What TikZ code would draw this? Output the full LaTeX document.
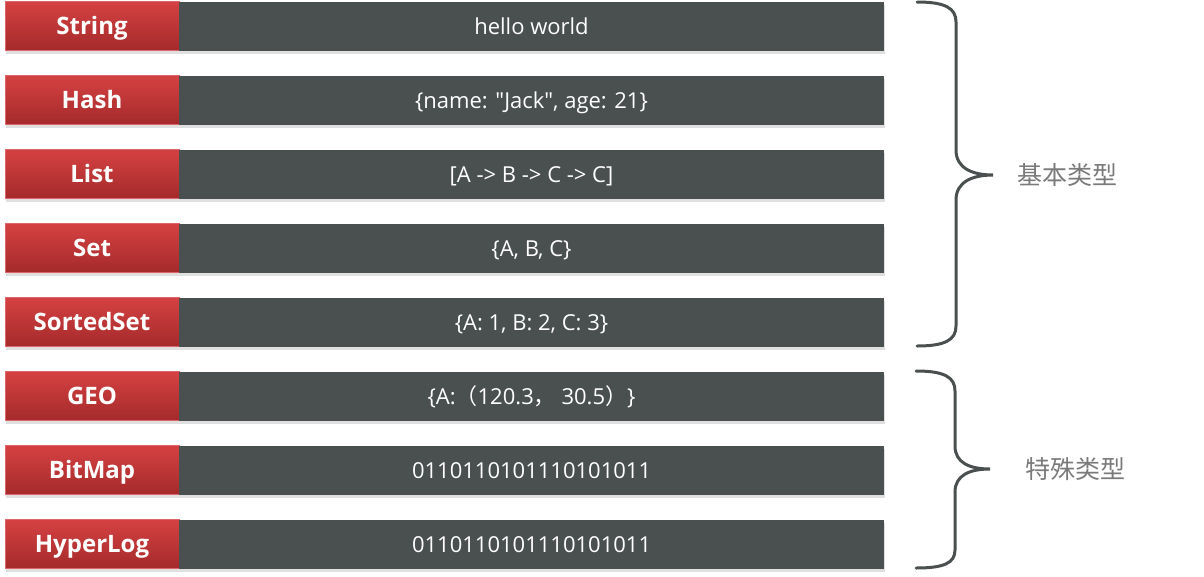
\documentclass[tikz,border=0pt]{standalone}
\usepackage{fontspec}
\setmainfont{Open Sans}
\newfontfamily\cjk{Noto Sans CJK SC}
\usetikzlibrary{positioning, shadows}

\definecolor{keytop}{HTML}{D54142}
\definecolor{keybot}{HTML}{A42A2B}
\definecolor{bargray}{HTML}{4A4F50}
\definecolor{notegray}{HTML}{7A7A7A}

\begin{document}
\begin{tikzpicture}[x=1pt, y=-1pt,
    key/.style={minimum width=174pt, minimum height=49pt, inner sep=0pt, outer sep=0pt,
        text height=20pt, text depth=3pt,
        top color=keytop, bottom color=keybot, draw=keytop!80!white, line width=.6pt,
        text=white, font=\fontsize{24}{28}\selectfont\bfseries,
        drop shadow={shadow xshift=1pt, shadow yshift=-3pt, opacity=.25}},
    val/.style={minimum width=705pt, minimum height=49pt, inner sep=0pt, outer sep=0pt,
        text height=18pt, text depth=2pt,
        fill=bargray, text=white, font=\fontsize{22}{26}\selectfont,
        drop shadow={shadow xshift=1pt, shadow yshift=-3pt, opacity=.25}},
    brace/.style={draw=bargray, line width=3pt, line cap=round},
    note/.style={inner sep=0pt, text=notegray, font=\cjk\fontsize{25}{30}\selectfont}]
    \useasboundingbox (0,0) rectangle (1204,576);

    \node[key] (string) at (92, 26) {String};
    \node[val, right=0pt of string] (stringval) {hello world};
    \node[key] (hash) at (92, 100) {Hash};
    \node[val, right=0pt of hash] (hashval) {\{name: \textquotedbl Jack\textquotedbl, age: 21\}};
    \node[key] (list) at (92, 174) {List};
    \node[val, right=0pt of list] (listval) {[A -> B -> C -> C]};
    \node[key] (set) at (92, 248) {Set};
    \node[val, right=0pt of set] (setval) {\{A, B, C\}};
    \node[key] (sortedset) at (92, 322) {SortedSet};
    \node[val, right=0pt of sortedset] (sortedsetval) {\{A: 1, B: 2, C: 3\}};
    \node[key] (geo) at (92, 396) {GEO};
    \node[val, right=0pt of geo] (geoval) {\{A:{\cjk（}120.3{\cjk，} 30.5{\cjk）}\}};
    \node[key] (bitmap) at (92, 470) {BitMap};
    \node[val, right=0pt of bitmap] (bitmapval) {0110110101110101011};
    \node[key] (hyperlog) at (92, 544) {HyperLog};
    \node[val, right=0pt of hyperlog] (hyperlogval) {0110110101110101011};

    % braces
    \draw[brace] (917, 2) .. controls (945, 2) and (956, 8) .. (956, 22)
        -- (956, 150) .. controls (956, 168) and (972, 175) .. (993, 175) coordinate (basictip)
        .. controls (972, 175) and (956, 182) .. (956, 200)
        -- (956, 326) .. controls (956, 340) and (945, 346) .. (917, 346);
    \draw[brace] (916, 371) .. controls (944, 371) and (955, 377) .. (955, 391)
        -- (955, 446) .. controls (955, 463) and (970, 469) .. (990, 469) coordinate (specialtip)
        .. controls (970, 469) and (955, 475) .. (955, 492)
        -- (955, 550) .. controls (955, 563) and (944, 568) .. (916, 568);

    \node[note, right=24pt of basictip] (basic) {基本类型};
    \node[note, right=35pt of specialtip] (special) {特殊类型};
\end{tikzpicture}
\end{document}
